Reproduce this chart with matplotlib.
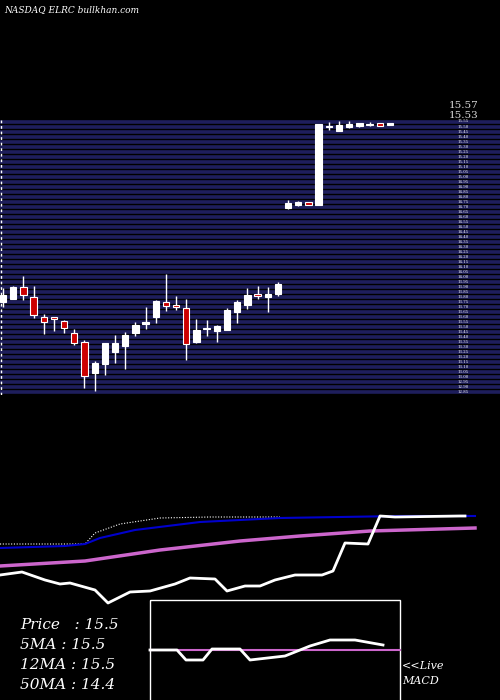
import matplotlib
matplotlib.use("Agg")
import matplotlib.pyplot as plt
import numpy as np

opens  = [13.75,13.78,13.90,13.80,13.60,13.60,13.56,13.44,13.35,13.04,13.13,13.25,13.31,13.44,13.53,13.60,13.75,13.72,13.69,13.35,13.48,13.46,13.47,13.65,13.72,13.83,13.80,13.83,
          14.69,14.72,14.75,14.72,15.50,15.46,15.50,15.51,15.52,15.54,15.52]
highs  = [13.89,13.91,14.01,13.91,13.63,13.60,13.57,13.48,13.37,13.16,13.34,13.42,13.45,13.55,13.70,13.77,14.03,13.81,13.78,13.58,13.57,13.52,13.69,13.77,13.89,13.91,13.90,13.95,
          14.77,14.76,14.75,15.53,15.55,15.56,15.56,15.54,15.55,15.54,15.54]
lows   = [13.70,13.78,13.77,13.59,13.43,13.46,13.44,13.32,12.89,12.86,13.02,13.14,13.08,13.41,13.48,13.54,13.66,13.67,13.17,13.34,13.41,13.35,13.47,13.54,13.68,13.78,13.65,13.81,
          14.68,14.71,14.72,14.72,15.47,15.46,15.49,15.50,15.51,15.51,15.52]
closes = [13.82,13.90,13.82,13.62,13.55,13.58,13.49,13.34,13.01,13.14,13.34,13.34,13.42,13.52,13.55,13.76,13.71,13.70,13.33,13.47,13.49,13.51,13.67,13.75,13.82,13.81,13.83,13.93,
          14.74,14.75,14.72,15.53,15.51,15.52,15.53,15.54,15.53,15.51,15.54]

# indicator panel (pixel-scale readings of the lower panel)
blue_x = [0,65,85,100,135,200,280,340,400,475]
blue_y = [548,546,544,538,530,522,518,517,516,516]
dot_x = [0,85,95,120,160,210,280]
dot_y = [544,544,533,524,518,517,517]
mag_x = [0,85,160,240,300,370,475]
mag_y = [566,561,550,541,536,531,528]
wht_x = [0,22,45,60,70,95,108,130,150,175,190,215,227,245,260,275,295,322,333,345,368,380,395,460,465]
wht_y = [575,572,580,584,583,590,603,592,591,584,578,579,591,586,586,580,575,575,571,543,544,516,517,516,516]
macd_x = [150,177,186,203,212,240,250,285,310,330,355,383]
macd_y = [650,650,660,660,649,649,660,656,646,640,640,645]
labels = ["Price   : 15.5", "5MA : 15.5", "12MA : 15.5", "50MA : 14.4"]

fig = plt.figure(figsize=(5, 7), dpi=100, facecolor="black")

ov = fig.add_axes([0, 0, 1, 1])
ov.set_xlim(0, 500); ov.set_ylim(700, 0); ov.axis("off")

top, bot = 120, 395
axp = fig.add_axes([0, 1 - bot / 700, 1, (bot - top) / 700])
axp.set_facecolor("black")
ymin, ymax = 16.77 - bot * 0.01, 16.77 - top * 0.01
axp.set_ylim(ymin, ymax)
axp.set_xlim(-0.3, 500 / 10.18 - 0.3)
axp.axis("off")
for lvl in np.arange(ymax - 0.015, ymin, -0.05):
    axp.axhline(lvl, color="#1e1e5c", lw=2.6, zorder=0)
    axp.text(44.6, lvl, f"{lvl:.2f}", color="white", fontsize=2.8, va="center", family="DejaVu Serif")
axp.axvline(-0.2, color="white", lw=1, ls=(0, (2, 2)))
for i, (o, h, l, c) in enumerate(zip(opens, highs, lows, closes)):
    up = c >= o
    axp.vlines(i, l, h, color="white", lw=1, zorder=2)
    b0, b1 = min(o, c), max(o, c)
    hgt = max(b1 - b0, 0.012)
    axp.bar(i, hgt, bottom=b0, width=0.62, color="white" if up else "#cc0000",
            edgecolor="white", lw=0.8, zorder=3)

ov.text(449, 110, "15.57", color="white", fontsize=7.5, family="DejaVu Serif", alpha=0.85, va="bottom")
ov.text(449, 120, "15.53", color="white", fontsize=7.5, family="DejaVu Serif", alpha=0.85, va="bottom")
ov.text(4, 12, "NASDAQ ELRC bullkhan.com", color="white", fontsize=6.5, family="DejaVu Serif", style="italic")

ov.plot(dot_x, dot_y, color="white", lw=0.8, ls=(0, (1, 1.5)))
ov.plot(blue_x, blue_y, color="#0000cc", lw=1.5)
ov.plot(mag_x, mag_y, color="#cc66cc", lw=2.5)
ov.plot(wht_x, wht_y, color="white", lw=2)

ov.add_patch(plt.Rectangle((150, 600), 250, 105, fill=False, edgecolor="white", lw=1))
ov.plot([150, 400], [650, 650], color="#cc66cc", lw=1.5)
ov.plot(macd_x, macd_y, color="white", lw=2)

for k, t in enumerate(labels):
    ov.text(20, 625 + 20 * k, t, color="white", fontsize=11, family="DejaVu Serif", style="italic", va="center")
ov.text(402, 666, "<<Live", color="white", fontsize=8, family="DejaVu Serif", style="italic", va="center")
ov.text(402, 681, "MACD", color="white", fontsize=8, family="DejaVu Serif", style="italic", va="center")

fig.savefig("out.png", dpi=100, facecolor="black")
